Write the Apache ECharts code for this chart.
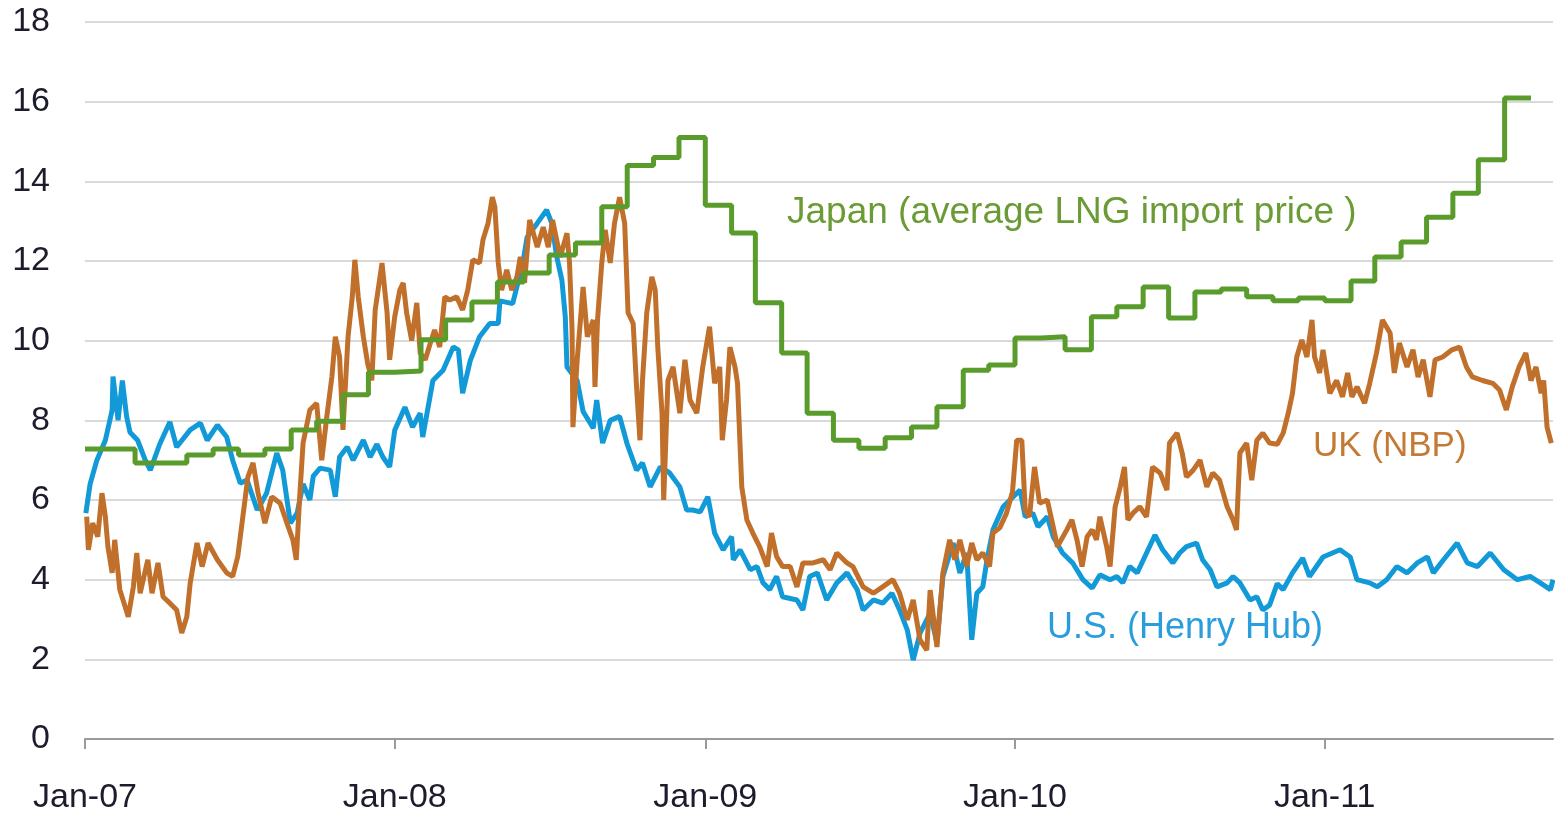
<!DOCTYPE html>
<html>
<head>
<meta charset="utf-8">
<title>Gas prices</title>
<script src="https://cdn.jsdelivr.net/npm/echarts@6/dist/echarts.min.js"></script>
<style>
  html, body { margin: 0; padding: 0; background: #fff; }
  #chart { width: 1555px; height: 813px; }
</style>
</head>
<body>
<div id="chart"></div>
<script>
// x values are days counted from 1 Jan 2007
var xTickDays = [0, 365, 731, 1096, 1461];
var xTickLabels = ['Jan-07', 'Jan-08', 'Jan-09', 'Jan-10', 'Jan-11'];
var xEndDay = 1730;

// Japan, monthly average LNG import price, Jan-07 .. Aug-11
var japanPrice = [
  7.28, 7.28, 6.93, 6.93, 7.13, 7.28, 7.13, 7.28, 7.76, 7.98, 8.64, 9.21,
  9.24, 10.02, 10.52, 10.97, 11.47, 11.7, 12.15, 12.45, 13.36, 14.4, 14.6, 15.1,
  13.4, 12.7, 10.95, 9.69, 8.18, 7.5, 7.3, 7.56, 7.83, 8.34, 9.26, 9.39,
  10.07, 10.1, 9.77, 10.6, 10.85, 11.35, 10.57, 11.22, 11.3, 11.1, 11.0, 11.07,
  11.0, 11.5, 12.1, 12.48, 13.1, 13.7, 14.54, 16.09
];

// U.S. Henry Hub
var usDay = [
  1, 6, 14, 24, 32, 33, 39, 44, 49, 53, 62, 71, 77, 88, 100, 108, 124, 136, 144, 156,
  167, 174, 183, 191, 203, 214, 226, 233, 242, 250, 257, 265, 269, 277, 289, 295, 300, 309, 316, 328,
  336, 344, 351, 359, 365, 377, 386, 395, 398, 410, 422, 434, 440, 445, 454, 465, 477, 487, 489, 504,
  516, 521, 533, 544, 550, 556, 562, 566, 568, 580, 587, 599, 603, 610, 619, 630, 639, 650, 657, 666,
  678, 689, 701, 709, 716, 725, 734, 742, 752, 762, 764, 772, 784, 792, 799, 807, 815, 822, 839, 846,
  854, 863, 874, 886, 898, 910, 917, 929, 940, 951, 960, 969, 976, 984, 996, 1004, 1011, 1023, 1031, 1039,
  1045, 1051, 1058, 1063, 1070, 1082, 1090, 1102, 1108, 1117, 1123, 1134, 1141, 1152, 1164, 1176, 1187, 1196, 1208, 1216,
  1223, 1231, 1240, 1251, 1261, 1270, 1282, 1290, 1298, 1310, 1317, 1326, 1334, 1346, 1353, 1361, 1373, 1381, 1388, 1396,
  1405, 1412, 1423, 1435, 1443, 1459, 1479, 1491, 1499, 1514, 1523, 1534, 1546, 1558, 1570, 1582, 1589, 1601, 1617, 1629,
  1641, 1656, 1672, 1688, 1703, 1715, 1727, 1730
];
var usPrice = [
  5.67, 6.4, 7.0, 7.5, 8.26, 9.1, 8.0, 9.0, 8.1, 7.7, 7.5, 7.0, 6.75, 7.4, 7.96, 7.33, 7.76, 7.93, 7.5, 7.88,
  7.58, 7.0, 6.42, 6.5, 5.75, 6.17, 7.18, 6.75, 5.42, 5.67, 6.4, 6.0, 6.6, 6.8, 6.75, 6.08, 7.08, 7.33, 7.0, 7.5,
  7.08, 7.4, 7.08, 6.83, 7.75, 8.33, 7.83, 8.18, 7.58, 9.0, 9.26, 9.84, 9.77, 8.68, 9.5, 10.1, 10.43, 10.43, 11.0, 10.93,
  11.95, 12.6, 12.95, 13.28, 12.95, 12.1, 11.52, 10.6, 9.34, 9.0, 8.22, 7.8, 8.51, 7.43, 8.0, 8.1, 7.4, 6.75, 6.93, 6.33,
  6.83, 6.68, 6.33, 5.75, 5.75, 5.7, 6.08, 5.17, 4.75, 5.08, 4.5, 4.75, 4.25, 4.33, 3.92, 3.75, 4.08, 3.57, 3.49, 3.24,
  4.08, 4.17, 3.49, 3.92, 4.17, 3.75, 3.24, 3.49, 3.41, 3.66, 3.24, 2.74, 1.98, 2.66, 3.16, 2.41, 4.08, 4.92, 4.17, 4.67,
  2.49, 3.66, 3.82, 4.5, 5.25, 5.83, 6.0, 6.25, 5.58, 5.67, 5.33, 5.58, 5.08, 4.67, 4.42, 4.0, 3.79, 4.12, 4.0, 4.08,
  3.92, 4.33, 4.17, 4.67, 5.12, 4.75, 4.42, 4.67, 4.83, 4.92, 4.5, 4.25, 3.82, 3.92, 4.08, 3.92, 3.49, 3.57, 3.24, 3.36,
  3.9, 3.75, 4.17, 4.54, 4.08, 4.57, 4.75, 4.57, 4.0, 3.92, 3.82, 4.0, 4.33, 4.17, 4.42, 4.57, 4.17, 4.5, 4.92, 4.42,
  4.33, 4.67, 4.25, 4.0, 4.08, 3.92, 3.75, 4.0
];

// UK NBP
var ukDay = [
  2, 4, 9, 15, 20, 24, 27, 32, 35, 41, 51, 57, 61, 65, 74, 79, 86, 92, 100, 108,
  114, 120, 124, 132, 138, 145, 156, 167, 174, 180, 186, 192, 198, 204, 212, 220, 230, 238, 245, 249,
  253, 257, 265, 273, 279, 285, 291, 295, 300, 304, 310, 315, 318, 322, 328, 333, 338, 342, 350, 356,
  359, 365, 371, 375, 379, 385, 391, 395, 401, 407, 412, 418, 424, 430, 438, 445, 451, 457, 465, 469,
  475, 480, 483, 487, 491, 497, 503, 509, 513, 518, 524, 533, 540, 546, 551, 560, 568, 571, 574, 575,
  580, 587, 592, 599, 601, 604, 609, 613, 619, 624, 630, 636, 640, 646, 650, 654, 657, 662, 668, 672,
  675, 680, 682, 687, 693, 701, 707, 713, 721, 728, 736, 742, 748, 751, 756, 760, 766, 769, 774, 780,
  787, 795, 804, 809, 815, 822, 831, 839, 846, 858, 870, 878, 886, 898, 905, 917, 929, 940, 952, 960,
  969, 976, 984, 992, 996, 1004, 1011, 1019, 1025, 1031, 1039, 1045, 1051, 1058, 1066, 1070, 1078, 1086, 1093, 1098,
  1104, 1108, 1113, 1119, 1125, 1134, 1141, 1146, 1157, 1163, 1169, 1175, 1181, 1187, 1192, 1196, 1204, 1208, 1214, 1220,
  1225, 1229, 1235, 1243, 1251, 1258, 1267, 1275, 1278, 1287, 1293, 1298, 1306, 1314, 1322, 1329, 1337, 1346, 1353, 1357,
  1361, 1369, 1375, 1381, 1388, 1396, 1405, 1412, 1418, 1423, 1428, 1434, 1440, 1446, 1449, 1455, 1459, 1467, 1475, 1482,
  1488, 1493, 1499, 1508, 1514, 1522, 1529, 1538, 1543, 1549, 1558, 1565, 1571, 1577, 1585, 1591, 1600, 1611, 1620, 1628,
  1635, 1647, 1659, 1667, 1675, 1682, 1690, 1698, 1704, 1710, 1716, 1719, 1723, 1728
];
var ukPrice = [
  5.58, 4.75, 5.42, 5.08, 6.17, 5.58, 4.83, 4.17, 5.0, 3.75, 3.07, 3.82, 4.67, 3.66, 4.5, 3.66, 4.42, 3.57, 3.41, 3.24,
  2.66, 3.07, 3.92, 4.92, 4.33, 4.92, 4.5, 4.17, 4.08, 4.58, 5.58, 6.58, 6.93, 6.17, 5.42, 6.08, 5.92, 5.42, 5.0, 4.5,
  6.08, 7.43, 8.26, 8.43, 7.0, 8.1, 9.1, 10.1, 9.6, 7.76, 10.1, 11.1, 12.03, 11.1, 10.1, 9.44, 9.0, 10.77, 11.95, 10.7,
  9.52, 10.6, 11.27, 11.45, 10.7, 10.0, 10.95, 9.69, 9.52, 9.94, 10.27, 9.84, 11.1, 11.02, 11.1, 10.77, 11.27, 12.03, 11.95, 12.53,
  12.95, 13.6, 13.36, 11.95, 11.27, 11.78, 11.27, 11.6, 12.1, 11.45, 13.03, 12.35, 12.85, 12.35, 13.03, 12.1, 12.7, 11.95, 10.27, 7.83,
  9.5, 11.35, 10.1, 10.52, 8.84, 10.52, 11.95, 12.78, 11.95, 12.95, 13.6, 12.95, 10.7, 10.43, 8.84, 7.5, 9.0, 10.7, 11.6, 11.27,
  9.84, 8.18, 6.0, 9.0, 9.34, 8.18, 9.52, 8.51, 8.18, 9.34, 10.35, 8.93, 9.34, 7.5, 8.51, 9.84, 9.34, 8.93, 6.33, 5.5,
  5.17, 4.83, 4.33, 5.17, 4.58, 4.33, 4.33, 3.82, 4.42, 4.42, 4.5, 4.25, 4.67, 4.42, 4.33, 3.82, 3.66, 3.82, 4.0, 3.66,
  2.99, 3.49, 2.49, 2.23, 3.74, 2.31, 4.17, 5.0, 4.5, 5.0, 4.33, 4.92, 4.5, 4.67, 4.33, 5.17, 5.3, 5.67, 6.2, 7.5,
  7.5, 5.75, 5.58, 6.83, 5.92, 6.0, 5.33, 4.83, 5.25, 5.5, 5.0, 4.33, 5.08, 5.25, 5.0, 5.58, 4.83, 4.33, 5.83, 6.33,
  6.83, 5.5, 5.67, 5.83, 5.58, 6.83, 6.68, 6.25, 7.43, 7.68, 7.18, 6.58, 6.75, 7.0, 6.33, 6.68, 6.5, 5.83, 5.5, 5.25,
  7.18, 7.43, 6.5, 7.5, 7.68, 7.43, 7.4, 7.68, 8.18, 8.68, 9.59, 10.02, 9.59, 10.52, 9.59, 9.19, 9.77, 8.68, 9.0, 8.59,
  9.19, 8.59, 8.84, 8.43, 8.93, 9.69, 10.52, 10.19, 9.19, 9.94, 9.34, 9.77, 9.09, 9.52, 8.59, 9.52, 9.59, 9.77, 9.84, 9.34,
  9.09, 9.0, 8.93, 8.76, 8.26, 8.84, 9.34, 9.69, 9.0, 9.34, 8.68, 9.0, 7.83, 7.43
];

var font = 'Liberation Sans, Arial, sans-serif';
var blue = '#129ad8';
var orange = '#c0702a';
var green = '#5a9c2c';

function pairs (days, values) {
  return days.map(function (d, i) { return [d, values[i]] })
}

// monthly steps: each value holds from the first of its month to the next
var dayMs = 86400000;
var base = Date.UTC(2007, 0, 1);
var japanData = japanPrice.map(function (v, i) {
  return [(Date.UTC(2007, i, 1) - base) / dayMs, v]
});
japanData.push([(Date.UTC(2007, japanPrice.length, 1) - base) / dayMs, japanPrice[japanPrice.length - 1]]);

var chart = echarts.init(document.getElementById('chart'));
chart.setOption({
  animation: false,
  grid: { left: 85, right: 2, top: 22, bottom: 74, outerBoundsMode: 'none' },
  xAxis: {
    type: 'value',
    min: 0,
    max: xEndDay,
    axisLine: { lineStyle: { color: '#9a9a9a', width: 2 } },
    axisTick: { show: true, length: 10, customValues: xTickDays, lineStyle: { color: '#9a9a9a', width: 2 } },
    axisLabel: {
      customValues: xTickDays,
      margin: 42,
      fontSize: 34,
      fontFamily: font,
      color: '#1c1c2c',
      formatter: function (v) {
        var i = xTickDays.indexOf(Math.round(v));
        return i < 0 ? '' : xTickLabels[i]
      }
    },
    splitLine: { show: false }
  },
  yAxis: {
    type: 'value',
    min: 0,
    max: 18,
    interval: 2,
    axisLine: { show: false },
    axisTick: { show: false },
    axisLabel: { margin: 35, fontSize: 34, fontFamily: font, color: '#1c1c2c' },
    splitLine: { lineStyle: { color: '#d9d9d9', width: 2 } }
  },
  series: [
    {
      name: 'U.S. (Henry Hub)',
      type: 'line',
      showSymbol: false,
      data: pairs(usDay, usPrice),
      lineStyle: { color: blue, width: 5 }
    },
    {
      name: 'UK (NBP)',
      type: 'line',
      showSymbol: false,
      data: pairs(ukDay, ukPrice),
      lineStyle: { color: orange, width: 5 }
    },
    {
      name: 'Japan (average LNG import price )',
      type: 'line',
      step: 'end',
      showSymbol: false,
      data: japanData,
      lineStyle: { color: green, width: 5 }
    }
  ],
  graphic: [
    { type: 'text', left: 787, top: 194, style: { text: 'Japan (average LNG import price )', fill: '#6a9b35', font: '37px ' + font } },
    { type: 'text', left: 1313, top: 429, style: { text: 'UK (NBP)', fill: '#c47a35', font: '35px ' + font } },
    { type: 'text', left: 1047, top: 610, style: { text: 'U.S. (Henry Hub)', fill: '#2a9ddc', font: '36px ' + font } }
  ]
});
</script>
</body>
</html>
